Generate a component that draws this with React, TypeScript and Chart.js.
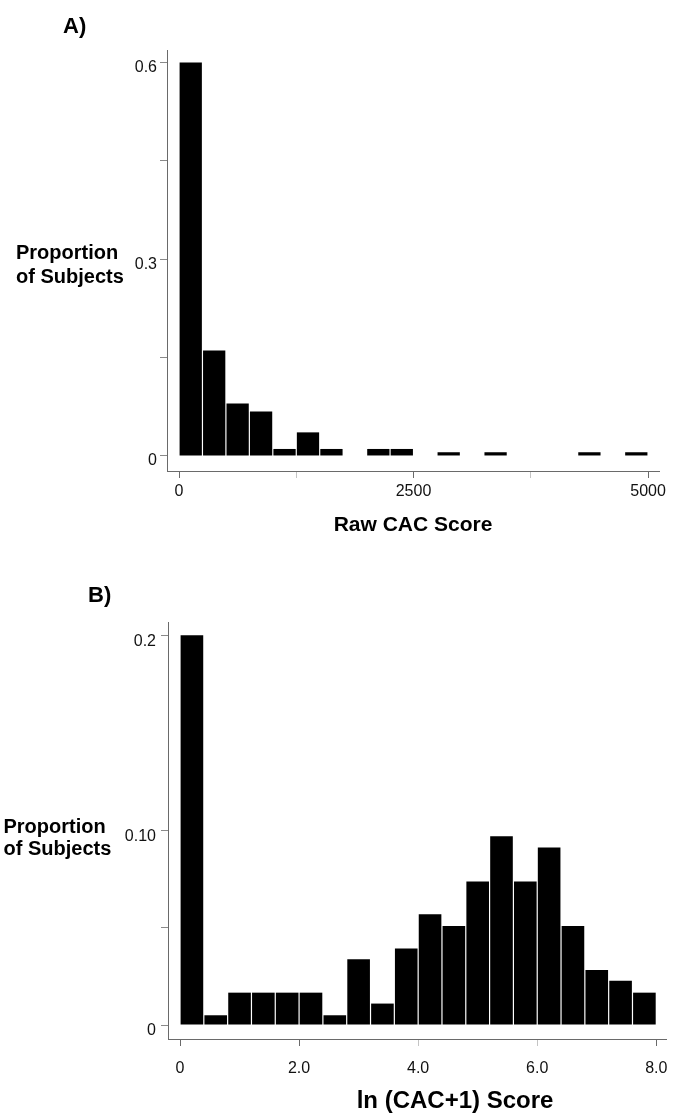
import { useEffect, useRef } from "react";
import { Chart, registerables } from "chart.js";

Chart.register(...registerables);

const FONT = '"Liberation Sans", Arial, Helvetica, sans-serif';

// ---------- Panel A: raw CAC score (bins of 250) ----------
const rawBinCenters = [125, 375, 625, 875, 1125, 1375, 1625, 1875, 2125, 2375, 2625, 2875, 3125, 3375, 3625, 3875, 4125, 4375, 4625, 4875];
const rawProportions = [0.6, 0.161, 0.08, 0.068, 0.0107, 0.036, 0.0107, 0, 0.0107, 0.0107, 0, 0.0057, 0, 0.0057, 0, 0, 0, 0.0057, 0, 0.0057];
const rawXTicks = [0, 1250, 2500, 3750, 5000];
const rawXTickLabels = ["0", "", "2500", "", "5000"];
const rawXMinorTicks = [1250, 3750];
const rawYTicks = [0, 0.15, 0.3, 0.45, 0.6];
const rawYTickLabels = ["0", "", "0.3", "", "0.6"];

// ---------- Panel B: ln(CAC+1) score (bins of 0.4) ----------
const lnBinCenters = [0.2, 0.6, 1.0, 1.4, 1.8, 2.2, 2.6, 3.0, 3.4, 3.8, 4.2, 4.6, 5.0, 5.4, 5.8, 6.2, 6.6, 7.0, 7.4, 7.8];
const lnProportions = [0.2, 0.005, 0.0166, 0.0166, 0.0166, 0.0166, 0.005, 0.0337, 0.011, 0.0393, 0.0568, 0.0508, 0.0737, 0.0968, 0.0737, 0.0911, 0.0508, 0.0282, 0.0227, 0.0166];
const lnXTicks = [0, 2, 4, 6, 8];
const lnXTickLabels = ["0", "2.0", "4.0", "6.0", "8.0"];
const lnXMinorTicks = [4, 6];
const lnYTicks = [0, 0.05, 0.1, 0.2];
const lnYTickLabels = ["0", "", "0.10", "0.2"];

type TextItem = { text: string; x: number; y: number; size: number; align: CanvasTextAlign };

type PanelSpec = {
  top: number;
  height: number;
  centers: number[];
  values: number[];
  xMin: number;
  xMax: number;
  yMin: number;
  yMax: number;
  xTicks: number[];
  xTickLabels: string[];
  xMinor: number[];
  yTicks: number[];
  yTickLabels: string[];
  yAxisWidth: number;
  xAxisHeight: number;
  padTop: number;
  padRight: number;
  yLabelOffset: number;
  yTickPadding: number;
  xTickPadding: number;
  texts: TextItem[];
};

const panelA: PanelSpec = {
  top: 0,
  height: 540,
  centers: rawBinCenters,
  values: rawProportions,
  xMin: -128,
  xMax: 5117,
  yMin: -0.0229,
  yMax: 0.619,
  xTicks: rawXTicks,
  xTickLabels: rawXTickLabels,
  xMinor: rawXMinorTicks,
  yTicks: rawYTicks,
  yTickLabels: rawYTickLabels,
  yAxisWidth: 167,
  xAxisHeight: 69,
  padTop: 50,
  padRight: 25,
  yLabelOffset: 5,
  yTickPadding: 3,
  xTickPadding: 4,
  texts: [
    { text: "A)", x: 63, y: 33, size: 22, align: "left" },
    { text: "Proportion", x: 16, y: 259, size: 20, align: "left" },
    { text: "of Subjects", x: 16, y: 282.5, size: 20, align: "left" },
    { text: "Raw CAC Score", x: 413, y: 531, size: 21, align: "center" },
  ],
};

const panelB: PanelSpec = {
  top: 560,
  height: 554,
  centers: lnBinCenters,
  values: lnProportions,
  xMin: -0.2017,
  xMax: 8.163,
  yMin: -0.00718,
  yMax: 0.2068,
  xTicks: lnXTicks,
  xTickLabels: lnXTickLabels,
  xMinor: lnXMinorTicks,
  yTicks: lnYTicks,
  yTickLabels: lnYTickLabels,
  yAxisWidth: 168,
  xAxisHeight: 75,
  padTop: 62,
  padRight: 18,
  yLabelOffset: 6,
  yTickPadding: 5,
  xTickPadding: 13,
  texts: [
    { text: "B)", x: 88, y: 601.5, size: 22, align: "left" },
    { text: "Proportion", x: 3.5, y: 832.7, size: 20, align: "left" },
    { text: "of Subjects", x: 3.5, y: 854.5, size: 20, align: "left" },
    { text: "ln (CAC+1) Score", x: 455, y: 1108, size: 24, align: "center" },
  ],
};

const textPlugin = {
  id: "panelText",
  afterDraw(chart: any, _args: any, opts: any) {
    const ctx = chart.ctx as CanvasRenderingContext2D;
    ctx.save();
    ctx.fillStyle = "#000";
    ctx.textBaseline = "alphabetic";
    for (const t of opts.items as TextItem[]) {
      ctx.font = `bold ${t.size}px ${FONT}`;
      ctx.textAlign = t.align;
      ctx.fillText(t.text, t.x, t.y - opts.offsetY);
    }
    ctx.restore();
  },
};

function Panel({ spec }: { spec: PanelSpec }) {
  const ref = useRef<HTMLCanvasElement>(null);
  useEffect(() => {
    const canvas = ref.current;
    if (!canvas) return;
    const chart = new Chart(canvas, {
      type: "bar",
      data: {
        datasets: [
          {
            data: spec.centers.map((c, i) => ({ x: c, y: spec.values[i] })),
            backgroundColor: "#000",
            borderWidth: 0,
            barPercentage: 0.95,
            categoryPercentage: 1,
          },
        ],
      },
      options: {
        responsive: false,
        animation: false,
        devicePixelRatio: 1,
        layout: {
          autoPadding: false,
          padding: { top: spec.padTop, right: spec.padRight, left: 0, bottom: 0 },
        },
        plugins: {
          legend: { display: false },
          tooltip: { enabled: false },
          panelText: { items: spec.texts, offsetY: spec.top },
        } as any,
        scales: {
          x: {
            type: "linear",
            min: spec.xMin,
            max: spec.xMax,
            offset: false,
            afterBuildTicks: (s: any) => {
              s.ticks = spec.xTicks.map((v) => ({ value: v }));
            },
            afterFit: (s: any) => {
              s.height = spec.xAxisHeight;
            },
            grid: {
              offset: false,
              drawOnChartArea: false,
              drawTicks: true,
              tickLength: 7,
              lineWidth: 1,
              color: (ctx: any) =>
                ctx.tick && spec.xMinor.includes(ctx.tick.value) ? "#c4c4c4" : "#6a6a6a",
            },
            border: { display: true, color: "#6a6a6a", width: 1 },
            ticks: {
              autoSkip: false,
              maxRotation: 0,
              padding: spec.xTickPadding,
              color: "#111",
              font: { family: FONT, size: 16 },
              callback: (_v: any, i: number) => spec.xTickLabels[i],
            },
          },
          y: {
            type: "linear",
            min: spec.yMin,
            max: spec.yMax,
            afterBuildTicks: (s: any) => {
              s.ticks = spec.yTicks.map((v) => ({ value: v }));
            },
            afterFit: (s: any) => {
              s.width = spec.yAxisWidth;
            },
            grid: {
              drawOnChartArea: false,
              drawTicks: true,
              tickLength: 7,
              lineWidth: 1,
              color: "#8a8a8a",
            },
            border: { display: true, color: "#6a6a6a", width: 1 },
            ticks: {
              autoSkip: false,
              padding: spec.yTickPadding,
              labelOffset: spec.yLabelOffset,
              color: "#111",
              font: { family: FONT, size: 16 },
              callback: (_v: any, i: number) => spec.yTickLabels[i],
            },
          },
        },
      },
      plugins: [textPlugin as any],
    });
    return () => chart.destroy();
  }, [spec]);
  return (
    <canvas
      ref={ref}
      width={684}
      height={spec.height}
      style={{ position: "absolute", left: 0, top: spec.top, width: 684, height: spec.height }}
    />
  );
}

export default function App() {
  return (
    <div
      style={{
        position: "absolute",
        left: 0,
        top: 0,
        width: 684,
        height: 1114,
        background: "#fff",
        overflow: "hidden",
      }}
    >
      <Panel spec={panelA} />
      <Panel spec={panelB} />
    </div>
  );
}
